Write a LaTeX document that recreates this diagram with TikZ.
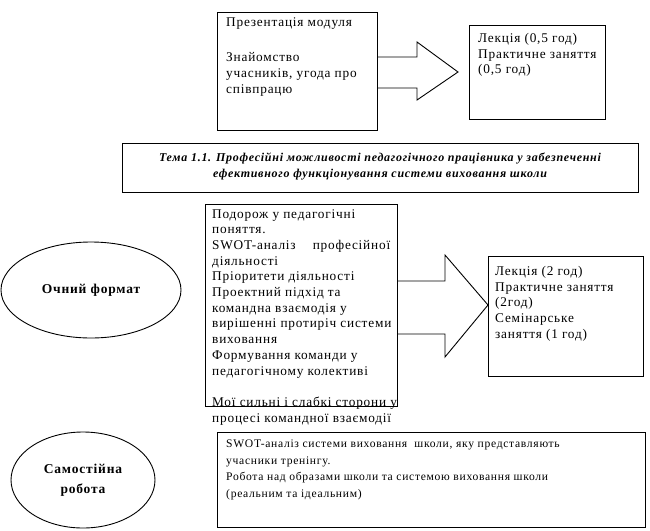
\documentclass[tikz,border=0pt]{standalone}
\usepackage{fontspec}
\setmainfont[LetterSpace=6]{Liberation Serif}
\usetikzlibrary{shapes.geometric}
\tikzset{
  box/.style={draw, line width=0.9pt, rectangle, inner sep=0pt, anchor=north west},
  oval/.style={draw, line width=0.9pt, ellipse, inner sep=0pt},
  txt/.style={inner sep=0pt, anchor=north west, align=left, font=\fontsize{13.3}{15.7}\selectfont},
  smalltxt/.style={inner sep=0pt, anchor=north west, align=left, font=\fontsize{11.6}{16.5}\selectfont},
  blockarrow/.style={draw, line width=0.9pt, line join=miter},
}
\begin{document}
\begin{tikzpicture}[x=1pt,y=-1pt]
\useasboundingbox (0,0) rectangle (650,530);
% boxes
\node[box, minimum width=160pt, minimum height=118pt] (b1) at (217,12) {};
\node[box, minimum width=136pt, minimum height=94pt] (b2) at (469,25) {};
\node[box, minimum width=516pt, minimum height=49pt] (title) at (122,143) {};
\node[box, minimum width=192pt, minimum height=202pt] (b3) at (205,204) {};
\node[box, minimum width=155pt, minimum height=120pt] (b4) at (488,256) {};
\node[box, minimum width=428pt, minimum height=95pt] (b5) at (217,432) {};
% ellipses
\node[oval, minimum width=180pt, minimum height=96pt] (e1) at (91,290) {};
\node[oval, minimum width=144pt, minimum height=96pt] (e2) at (83,480) {};
\node[font=\fontsize{13.5}{16}\selectfont\bfseries] (e1t) at (e1.center) {Очний формат};
\node[font=\fontsize{13.5}{20}\selectfont\bfseries, align=center] (e2t) at (e2.center) {Самостійна\\робота};
% block arrows
\coordinate (a1s) at (377,57);
\draw[blockarrow] (a1s) -- (417,57) -- (417,42) -- (458,72) -- (417,100) -- (417,88) -- (b1.east |- 0,88);
\coordinate (a2s) at (397,281);
\draw[blockarrow] (a2s) -- (445,281) -- (445,255) -- (b4.west |- 0,305) -- (445,357) -- (445,334) -- (b3.east |- 0,334);
% texts
\node[txt] (t1) at (226,17) {Презентація модуля\\[20pt]Знайомство\\учасників, угода про\\співпрацю};
\node[txt] (t2) at (478,33) {Лекція (0,5 год)\\Практичне заняття\\(0,5 год)};
\node[inner sep=0pt, align=center, font=\fontsize{12}{16}\selectfont\bfseries\itshape] (tt) at (380,166) {Тема 1.1. Професійні можливості педагогічного працівника у забезпеченні\\ефективного функціонування системи виховання школи};
\node[txt] (t3) at (212,209) {Подорож у педагогічні\\поняття.\\\hbox to 178pt{SWOT-аналіз\hfill професійної}\\діяльності\\Пріоритети діяльності\\Проектний підхід та\\командна взаємодія у\\вирішенні протиріч системи\\виховання\\Формування команди у\\педагогічному колективі\\[15.7pt]Мої сильні і слабкі сторони у\\процесі командної взаємодії};
\node[txt] (t4) at (495,266) {Лекція (2 год)\\Практичне заняття\\(2год)\\Семінарське\\заняття (1 год)};
\node[smalltxt] (t5) at (226,440) {SWOT-аналіз системи виховання \ школи, яку представляють\\учасники тренінгу.\\Робота над образами школи та системою виховання школи\\(реальним та ідеальним)};
\end{tikzpicture}
\end{document}
